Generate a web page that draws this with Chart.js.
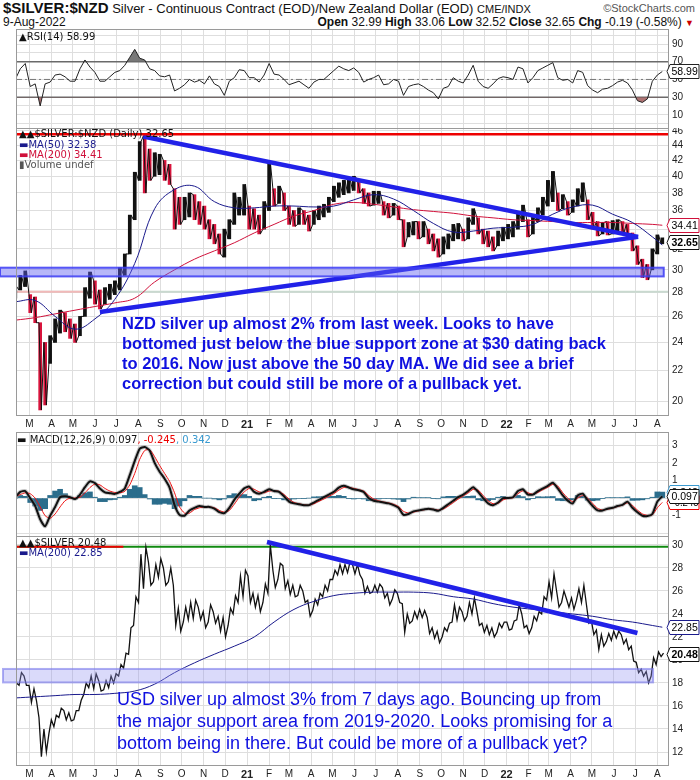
<!DOCTYPE html>
<html>
<head>
<meta charset="utf-8">
<script src="https://cdn.jsdelivr.net/npm/chart.js@4.4.0/dist/chart.umd.min.js"></script>
<style>
  body { margin: 0; width: 700px; height: 780px; position: relative; background: #fff; overflow: hidden;
         font-family: "Liberation Sans", Arial, sans-serif; }
  canvas { position: absolute; left: 0; }
  .t { position: absolute; white-space: nowrap; }
  .nar { font-family: "Liberation Sans Narrow", "Arial Narrow", "Liberation Sans", sans-serif; }
  .lg { font-family: "DejaVu Sans", Verdana, sans-serif; font-size: 10px; line-height: 10px; }
  .note { color: #0f10e0; }
</style>
</head>
<body>

<!-- header -->
<div class="t nar" style="left:3px;top:0px;font-size:13px;line-height:16px;color:#111">
  <b style="font-size:15px">$SILVER:$NZD</b> Silver - Continuous Contract (EOD)/New Zealand Dollar (EOD) <span style="font-size:11px">CME/INDX</span>
</div>
<div class="t" style="right:5px;top:2px;font-size:11px;color:#555">©StockCharts.com</div>
<div class="t nar" style="left:3px;top:15px;font-size:12px;color:#111">9-Aug-2022</div>
<div class="t nar" style="right:6px;top:15px;font-size:12px;color:#111">
  <b>Open</b> 32.99 <b>High</b> 33.06 <b>Low</b> 32.52 <b>Close</b> 32.65 <b>Chg</b> -0.19 (-0.58%) <span style="color:#c00;font-size:9px">▼</span>
</div>

<canvas id="rsiChart" width="700" height="100" style="top:29px"></canvas>
<canvas id="mainChart" width="700" height="305" style="top:128px"></canvas>
<canvas id="macdChart" width="700" height="104" style="top:432px"></canvas>
<canvas id="usdChart" width="700" height="244" style="top:536px"></canvas>

<!-- panel legends -->
<div class="t lg" style="left:19px;top:32px;color:#111">▲RSI(14) 58.99</div>
<div class="t lg" style="left:19px;top:129px;color:#111">
  <div>▲▲$SILVER:$NZD (Daily) 32.65</div>
  <div style="color:#1a1a8c;margin-top:1px">▬MA(50) 32.38</div>
  <div style="color:#d0103a">▬MA(200) 34.41</div>
  <div style="color:#555">▮Volume undef</div>
</div>
<div class="t lg" style="left:17px;top:435px;color:#111">▬ MACD(12,26,9) 0.097<span style="color:#e00">, -0.245</span><span style="color:#3a9ad0">, 0.342</span></div>
<div class="t lg" style="left:19px;top:538px;color:#111">
  <div>▲▲$SILVER 20.48</div>
  <div style="color:#1a1a8c;background:#fff">▬MA(200) 22.85</div>
</div>

<!-- chart notes -->
<div class="t note" style="left:122px;top:313px;font-size:16.5px;line-height:20px;font-weight:bold">
  NZD silver up almost 2% from last week. Looks to have<br>
  bottomed just below the blue support zone at $30 dating back<br>
  to 2016. Now just above the 50 day MA. We did see a brief<br>
  correction but could still be more of a pullback yet.
</div>
<div class="t note" style="left:117px;top:688px;font-size:18px;line-height:22px">
  USD silver up almost 3% from 7 days ago. Bouncing up from<br>
  the major support area from 2019-2020. Looks promising for a<br>
  bottom being in there. But could be more of a pullback yet?
</div>

<script>
// --- Data (weekly samples, first week = 2020-02-10) ---
const firstWeek = '2020-02-10';

const nzdLow = [27.5,28.2,28.5,26.3,25.5,19.5,19.8,22.5,24.0,24.7, 24.8,24.3,24.0,24.5,26.0,27.5,27.0,26.6,27.0,27.4,
  27.8,28.2,29.5,31.5,35.0,39.5,38.0,39.5,40.0,40.2, 39.5,39.0,34.0,34.5,35.0,35.3,35.0,34.5,34.0,33.0,
  32.5,31.5,31.2,33.0,34.5,35.5,35.5,34.0,34.0,33.5, 34.0,36.0,36.5,36.8,36.0,34.5,34.3,34.5,34.5,33.8,
  34.5,35.0,35.3,35.8,37.0,37.5,37.8,38.0,38.3,38.0, 36.8,36.5,36.6,36.8,35.5,35.2,35.5,35.0,32.2,33.2,
  33.4,33.0,33.2,32.5,31.8,31.2,31.5,32.0,32.8,33.0, 32.8,33.0,34.5,33.5,32.5,32.2,31.8,32.3,32.8,33.0,
  33.2,34.0,34.8,33.2,33.5,34.8,35.5,36.5,37.0,36.0, 36.2,35.5,35.8,36.5,37.0,35.0,34.0,33.3,33.5,33.4,
  33.5,33.6,33.5,33.0,31.8,30.5,29.3,29.1,30.0,31.5, 32.5];
const nzdHigh = [28.5,29.5,29.9,27.8,27.6,25.5,24.0,24.5,25.8,26.5, 26.3,25.8,25.4,26.0,28.4,29.8,29.0,28.2,28.4,28.7,
  29.0,30.2,31.5,35.5,40.5,44.5,45.3,43.5,43.0,42.8, 42.0,41.5,38.5,37.5,37.5,38.0,37.8,37.0,36.5,35.0,
  34.5,33.5,34.0,35.0,38.0,37.5,39.0,36.5,36.2,35.5, 37.0,41.8,38.5,38.8,38.0,36.5,36.0,36.3,36.0,35.5,
  36.0,36.5,36.7,37.5,38.8,39.2,39.5,39.8,40.0,39.6, 38.5,38.0,38.2,38.2,37.0,36.8,36.8,36.5,35.0,34.7,
  34.8,34.8,34.8,34.0,33.5,33.0,33.2,33.5,34.5,34.6, 34.0,35.2,36.2,35.2,34.0,33.8,33.2,33.8,34.2,34.5,
  34.8,35.8,36.6,35.0,35.3,36.3,37.5,39.5,40.6,38.0, 37.8,37.0,37.2,38.5,39.2,37.2,35.8,34.8,34.7,34.8,
  34.9,35.0,34.8,34.5,33.6,32.3,31.0,30.5,32.0,33.4, 33.1];

const usdLow = [17.3,17.8,17.8,16.3,16.5,11.6,12.0,13.6,14.2,15.0, 14.8,14.7,14.8,15.6,17.0,17.6,17.5,17.3,17.4,17.6,
  18.0,18.6,19.3,20.5,23.0,25.0,26.2,26.5,26.8,27.2, 26.5,26.8,23.0,22.5,23.3,23.5,23.6,23.5,22.8,23.3,
  23.2,22.5,22.0,23.0,24.0,25.0,25.5,25.0,24.6,24.2, 25.0,25.8,26.3,27.0,26.2,25.7,25.5,25.6,25.0,23.8,
  24.3,24.8,25.5,26.0,27.0,27.4,27.5,27.6,27.5,27.4, 25.8,25.8,25.9,25.9,25.4,24.8,25.3,25.0,22.4,23.2,
  23.4,23.6,23.7,22.3,21.9,21.5,22.0,22.5,23.3,23.5, 23.4,23.8,24.0,23.0,22.4,22.2,22.0,22.4,22.8,22.6,
  22.7,23.5,22.8,22.3,22.8,23.4,24.0,25.2,25.4,24.6, 25.0,24.6,24.4,25.2,25.0,23.2,22.2,20.9,21.2,21.6,
  21.7,21.9,21.4,20.9,19.9,18.9,18.6,18.0,18.6,19.6, 20.3];
const usdHigh = [18.0,18.9,18.6,17.8,17.5,15.0,14.0,14.8,15.2,15.8, 15.6,15.4,15.6,16.5,18.0,18.6,18.8,18.2,18.2,18.6,
  18.8,19.6,20.6,22.8,25.5,29.2,29.8,28.5,28.3,28.8, 28.0,28.0,26.5,24.5,24.6,25.0,25.2,24.6,24.2,24.8,
  24.2,23.8,23.7,24.5,25.6,27.3,27.8,27.3,25.8,25.6, 26.6,30.0,27.8,28.4,28.2,26.9,26.5,26.5,26.0,25.2,
  25.3,25.8,26.5,27.0,27.8,28.3,28.3,28.5,28.3,28.3, 27.0,26.4,26.5,26.6,26.3,25.8,26.1,25.8,24.9,24.0,
  24.2,24.4,24.3,23.7,22.8,22.5,22.8,23.2,24.8,24.6, 24.2,25.0,25.4,24.2,23.2,23.0,22.8,23.2,23.3,23.3,
  23.4,24.8,24.0,23.0,23.8,24.2,25.5,26.8,27.5,26.0, 26.0,25.3,25.4,26.2,26.5,24.8,23.4,22.6,22.2,22.3,
  22.5,22.5,22.2,21.8,21.2,19.8,19.2,19.0,20.2,20.7, 20.6];

const rsi = [50,62,68,42,45,20,45,47,55,56, 53,48,48,62,72,64,58,48,48,53, 58,60,66,75,84,74,72,62,60,54,
  53,55,37,40,44,50,47,49,45,54, 45,42,32,48,52,61,60,52,52,47, 55,68,56,55,50,44,46,48,44,40,
  47,50,50,55,60,65,62,60,63,58, 47,50,52,55,44,45,50,48,32,42, 44,45,42,38,35,28,40,42,52,48,
  46,55,66,48,42,40,45,51,53,52, 50,64,62,46,52,60,63,66,69,52, 49,50,46,60,58,43,38,35,39,40,
  43,47,49,46,38,26,24,28,48,55, 58.99];

const macd = [0.05,0.35,0.4,0.0,-0.45,-1.2,-1.6,-1.0,-0.5,0.05, 0.1,0.05,-0.05,0.2,0.62,0.95,0.85,0.55,0.33,0.28,
  0.24,0.35,0.55,1.3,2.1,2.8,2.9,2.7,2.0,1.5, 1.1,0.6,-0.4,-0.95,-1.0,-0.7,-0.55,-0.45,-0.5,-0.5,
  -0.6,-0.8,-0.85,-0.55,-0.1,0.25,0.55,0.65,0.35,0.25, 0.35,0.5,0.4,0.35,0.1,-0.2,-0.3,-0.35,-0.4,-0.4,
  -0.25,-0.1,0.05,0.2,0.35,0.6,0.7,0.6,0.5,0.45, 0.35,0.0,-0.15,-0.2,-0.25,-0.3,-0.4,-0.55,-0.95,-0.9,
  -0.75,-0.7,-0.65,-0.6,-0.65,-0.72,-0.55,-0.35,-0.15,0.05, 0.2,0.4,0.62,0.35,0.0,-0.3,-0.4,-0.25,0.0,0.0,
  0.05,0.4,0.5,0.2,0.2,0.4,0.55,0.7,0.87,0.55, 0.15,-0.15,-0.3,0.15,0.25,-0.12,-0.45,-0.7,-0.7,-0.6,
  -0.55,-0.45,-0.38,-0.2,-0.55,-0.8,-1.0,-1.02,-0.9,-0.2, 0.097];
const signal = [0.1,0.2,0.3,0.25,0.0,-0.5,-1.0,-1.15,-0.9,-0.5, -0.15,0.0,0.0,0.05,0.3,0.6,0.8,0.75,0.55,0.4,
  0.32,0.3,0.38,0.75,1.4,2.2,2.7,2.75,2.35,1.85, 1.4,0.95,0.3,-0.5,-0.85,-0.85,-0.65,-0.55,-0.5,-0.5,
  -0.55,-0.7,-0.8,-0.7,-0.35,0.05,0.35,0.55,0.5,0.35, 0.3,0.4,0.42,0.38,0.2,-0.05,-0.25,-0.32,-0.38,-0.4,
  -0.32,-0.18,-0.05,0.1,0.25,0.45,0.6,0.62,0.55,0.48, 0.4,0.15,-0.05,-0.15,-0.22,-0.27,-0.35,-0.48,-0.75,-0.85,
  -0.8,-0.72,-0.67,-0.62,-0.63,-0.68,-0.62,-0.45,-0.25,-0.05, 0.12,0.3,0.5,0.45,0.15,-0.15,-0.32,-0.3,-0.1,-0.02,
  0.02,0.25,0.42,0.3,0.22,0.32,0.48,0.62,0.78,0.68, 0.3,0.0,-0.2,0.0,0.15,0.0,-0.3,-0.58,-0.68,-0.63,
  -0.57,-0.48,-0.4,-0.27,-0.42,-0.68,-0.9,-0.98,-0.95,-0.55, -0.245];
const histogram = [0.0,0.15,0.1,-0.25,-0.45,-0.7,-0.6,0.15,0.4,0.5, 0.25,0.05,-0.05,0.15,0.3,0.35,0.05,-0.2,-0.2,-0.1,
  -0.08,0.05,0.15,0.5,0.7,0.6,0.2,-0.05,-0.35,-0.35, -0.3,-0.35,-0.6,-0.45,-0.15,0.15,0.1,0.1,0.0,0.0,
  -0.05,-0.1,-0.05,0.15,0.25,0.2,0.2,0.1,-0.15,-0.1, 0.05,0.1,-0.02,-0.03,-0.1,-0.15,-0.05,-0.03,-0.02,0.0,
  0.07,0.08,0.1,0.1,0.1,0.15,0.1,-0.02,-0.05,-0.03, -0.05,-0.15,-0.1,-0.05,-0.03,-0.03,-0.05,-0.07,-0.2,-0.05,
  0.05,0.02,0.02,0.02,-0.02,-0.04,0.07,0.1,0.1,0.1, 0.08,0.1,0.12,-0.1,-0.15,-0.15,-0.08,0.05,0.1,0.02,
  0.03,0.15,0.08,-0.1,-0.02,0.08,0.07,0.08,0.09,-0.13, -0.15,-0.15,-0.1,0.15,0.1,-0.12,-0.15,-0.12,-0.02,0.03,
  0.02,0.03,0.02,0.07,-0.13,-0.12,-0.1,-0.04,0.05,0.35, 0.342];

// moving averages, sampled every 4th week (plus the last one)
const maWeeks = [0,4,8,12,16,20,24,28,32,36, 40,44,48,52,56,60,64,68,72,76, 80,84,88,92,96,100,104,108,112,116, 120,124,128,130];
const nzdMa50 = [27.2,27.3,26.0,25.0,25.8,27.4,30.6,36.2,38.4,38.8, 37.0,36.3,36.3,36.5,36.5,36.4,36.5,37.2,37.8,37.3,
  36.0,34.6,33.7,33.8,34.1,34.2,34.5,35.6,36.4,36.6, 35.6,34.7,33.2,32.38];
const nzdMa200 = [25.7,25.9,26.2,26.5,26.8,27.1,27.5,28.9,30.0,31.0, 31.8,32.6,33.6,34.5,35.4,36.0,36.7,36.9,36.7,36.4,
  36.1,35.9,35.7,35.4,35.2,35.0,34.9,34.8,34.7,34.7, 34.7,34.6,34.5,34.41];
const usdMa200 = [16.7,16.8,16.9,17.0,17.0,17.1,17.3,17.9,18.9,19.75, 20.5,21.2,22.0,23.3,24.4,25.1,25.6,25.8,25.9,25.9,
  25.9,25.8,25.5,25.3,24.9,24.6,24.4,24.2,24.0,23.8, 23.5,23.3,23.0,22.85];

// trend lines drawn on the chart
const nzdUpperTrend = { dates: ['2020-08-08', '2022-07-05'], values: [45.2, 33.2] };
const nzdLowerTrend = { dates: ['2020-06-08', '2022-07-05'], values: [26.35, 33.2] };
const usdTrend = { dates: ['2021-01-29', '2022-07-04'], values: [30.26, 22.35] };
const nzdZone = [29.4, 30.2];
const usdZone = [18.05, 19.22];

// axis ticks
const monthLabels = ['M','A','M','J','J','A','S','O','N','D','21','F','M','A','M','J','J','A','S','O','N','D',
  '22','F','M','A','M','J','J','A'];
const nzdTicks = [20,22,24,26,28,30,32,34,36,38,40,42,44,46];
const usdTicks = [12,14,16,18,20,22,24,26,28,30];
const rsiTicks = [0,10,20,30,40,50,60,70,80,90,100];
const macdTicks = [-2,-1,0,1,2,3];

// --- helpers ---
const DAY0 = Date.UTC(2020, 2, 1);
const dayOf = s => { const [y, m, d] = s.split('-').map(Number); return (Date.UTC(y, m - 1, d) - DAY0) / 864e5; };
const weekDays = nzdLow.map((_, i) => dayOf(firstWeek) + 7 * i);
const maDays = maWeeks.map(i => weekDays[i]);
const monthDays = monthLabels.map((_, k) => (Date.UTC(2020, 2 + k, 1) - DAY0) / 864e5);
const X_MIN = -19, X_MAX = 898;
const GRID = '#dedede';
const TICK_FONT = { family: '"Liberation Sans", Arial, sans-serif', size: 10 };

function xScale(labelHeight) {
  return {
    type: 'linear', min: X_MIN, max: X_MAX, offset: false,
    afterBuildTicks: s => { s.ticks = monthDays.map(v => ({ value: v })); },
    afterFit: s => { s.height = labelHeight; s.paddingLeft = 0; s.paddingRight = 0; },
    grid: { color: GRID, drawTicks: false, offset: false },
    border: { display: false },
    ticks: {
      display: labelHeight > 0, autoSkip: false, maxRotation: 0, padding: 3, color: '#222',
      callback: (v, i) => monthLabels[i],
      font: c => ({ ...TICK_FONT, weight: (monthLabels[c.index] || '').length > 1 ? 'bold' : 'normal', size: (monthLabels[c.index] || '').length > 1 ? 11 : 10 })
    }
  };
}

function yScale(extra, ticks, hide) {
  return Object.assign({
    position: 'right',
    afterFit: s => { s.width = 32; s.paddingTop = 0; s.paddingBottom = 0; },
    afterBuildTicks: s => { s.ticks = ticks.map(v => ({ value: v })); },
    grid: { color: GRID, drawTicks: false },
    border: { display: false },
    ticks: { padding: 4, color: '#222', font: TICK_FONT, autoSkip: false,
      callback: v => (hide && hide.includes(v)) ? '' : String(v) }
  }, extra);
}

function drawTag(ctx, x, y, text, color, bold) {
  ctx.save();
  ctx.font = (bold ? 'bold ' : '') + '10.5px "Liberation Sans", Arial, sans-serif';
  const w = Math.min(ctx.measureText(text).width + 3, 699 - x - 3);
  ctx.beginPath();
  ctx.moveTo(x, y);
  ctx.lineTo(x + 3, y - 7);
  ctx.lineTo(x + 3 + w, y - 7);
  ctx.lineTo(x + 3 + w, y + 7);
  ctx.lineTo(x + 3, y + 7);
  ctx.closePath();
  ctx.fillStyle = '#fff';
  ctx.fill();
  ctx.strokeStyle = color;
  ctx.lineWidth = 1;
  ctx.stroke();
  ctx.fillStyle = '#000';
  ctx.textBaseline = 'middle';
  ctx.fillText(text, x + 4.5, y + 0.5, w - 2);
  ctx.restore();
}

function hline(ctx, area, y, color, width, dash, x0, x1) {
  ctx.save();
  ctx.beginPath();
  ctx.setLineDash(dash || []);
  ctx.strokeStyle = color;
  ctx.lineWidth = width;
  ctx.moveTo(x0 !== undefined ? x0 : area.left, y);
  ctx.lineTo(x1 !== undefined ? x1 : area.right, y);
  ctx.stroke();
  ctx.restore();
}

// frame + extras per panel
function panelPlugin(opts) {
  return {
    id: 'panel',
    beforeDatasetsDraw(chart) {
      const { ctx, chartArea: a, scales } = chart;
      (opts.under || []).forEach(fn => fn(ctx, a, scales));
    },
    afterDatasetsDraw(chart) {
      const { ctx, chartArea: a, scales } = chart;
      (opts.over || []).forEach(fn => fn(ctx, a, scales));
    },
    afterDraw(chart) {
      const { ctx, chartArea: a, scales } = chart;
      ctx.save();
      ctx.strokeStyle = '#9a9a9a';
      ctx.lineWidth = 1;
      ctx.strokeRect(a.left + 0.5, a.top + 0.5, a.right - a.left, a.bottom - a.top);
      ctx.restore();
      (opts.tags || []).forEach(t => drawTag(ctx, a.right - 1, Math.round(scales.y.getPixelForValue(t.value)) + 0.5, t.text, t.color, t.bold));
    }
  };
}

const baseOptions = {
  responsive: false, animation: false, devicePixelRatio: 1,
  layout: { padding: { left: 16, right: 0, top: 0, bottom: 0 } },
  plugins: { legend: { display: false }, tooltip: { enabled: false } },
  elements: { point: { radius: 0 } }
};

const pts = (days, vals) => vals.map((v, i) => ({ x: days[i], y: v }));
const trendPts = t => t.dates.map((d, i) => ({ x: dayOf(d), y: t.values[i] }));
// price path through each week's low and high, in the order the week moved
const rangePath = (lows, highs) => lows.flatMap((lo, i) => {
  const up = i === 0 || lo + highs[i] >= lows[i - 1] + highs[i - 1];
  const a = { x: weekDays[i] - 1.7, y: up ? lo : highs[i] };
  const b = { x: weekDays[i] + 1.7, y: up ? highs[i] : lo };
  return [a, b];
});

// --- RSI panel ---
new Chart(document.getElementById('rsiChart'), {
  type: 'line',
  data: { datasets: [
    { data: pts(weekDays, rsi), borderColor: '#222', borderWidth: 1, tension: 0,
      fill: { target: { value: 70 }, above: 'rgba(105,105,105,0.9)', below: 'rgba(0,0,0,0)' } },
    { data: pts(weekDays, rsi), borderWidth: 0, borderColor: 'rgba(0,0,0,0)', tension: 0,
      fill: { target: { value: 30 }, above: 'rgba(0,0,0,0)', below: 'rgba(160,90,90,0.85)' } }
  ] },
  options: { ...baseOptions,
    scales: { x: xScale(0), y: yScale({ min: -6, max: 107 }, rsiTicks, [0, 20, 40, 60, 80, 100]) }
  },
  plugins: [panelPlugin({
    under: [
      (ctx, a, s) => hline(ctx, a, s.y.getPixelForValue(70), '#6b6b6b', 1.5),
      (ctx, a, s) => hline(ctx, a, s.y.getPixelForValue(30), '#6b6b6b', 1.5),
      (ctx, a, s) => hline(ctx, a, s.y.getPixelForValue(50), '#777', 1, [6, 3, 2, 3])
    ],
    tags: [{ value: 58.99, text: '58.99', color: '#222' }]
  })]
});

// --- main NZD panel ---
const nzdColors = nzdLow.map((lo, i) => (i > 0 && lo + nzdHigh[i] < nzdLow[i - 1] + nzdHigh[i - 1]) ? '#d8143c' : '#111');
new Chart(document.getElementById('mainChart'), {
  type: 'line',
  data: { datasets: [
    { data: trendPts(nzdUpperTrend), borderColor: '#2121e8', borderWidth: 4.5, tension: 0 },
    { data: trendPts(nzdLowerTrend), borderColor: '#2121e8', borderWidth: 4.5, tension: 0 },
    { data: pts(maDays, nzdMa50), borderColor: '#1a1a8c', borderWidth: 1, tension: 0.4 },
    { data: pts(maDays, nzdMa200), borderColor: '#d0103a', borderWidth: 1, tension: 0.4 },
    { data: rangePath(nzdLow, nzdHigh), borderColor: '#111', borderWidth: 1, tension: 0 },
    { type: 'bar', data: weekDays.map((d, i) => ({ x: d, y: [nzdLow[i], nzdHigh[i]] })),
      backgroundColor: nzdColors, barThickness: 3 }
  ] },
  options: { ...baseOptions,
    scales: { x: xScale(18), y: yScale({ type: 'logarithmic', min: 19.2, max: 46.4 }, nzdTicks) }
  },
  plugins: [panelPlugin({
    under: [
      (ctx, a, s) => {
        const y = s.y.getPixelForValue(28.05);
        hline(ctx, a, y, '#c9d9cf', 2);
        hline(ctx, a, y, '#f2b9b9', 2, null, a.left, s.x.getPixelForValue(76));
      }
    ],
    over: [
      (ctx, a, s) => hline(ctx, a, s.y.getPixelForValue(45.5), '#ee0000', 2.5),
      (ctx, a, s) => {
        const y0 = s.y.getPixelForValue(nzdZone[1]), y1 = s.y.getPixelForValue(nzdZone[0]);
        const x1 = s.x.getPixelForValue(dayOf('2022-08-10'));
        ctx.save();
        ctx.fillStyle = 'rgba(95,95,240,0.45)';
        ctx.fillRect(0, y0, x1, y1 - y0);
        ctx.strokeStyle = 'rgba(60,60,245,0.85)';
        ctx.lineWidth = 2;
        ctx.strokeRect(0, y0, x1, y1 - y0);
        ctx.restore();
      }
    ],
    tags: [{ value: 34.41, text: '34.41', color: '#d0103a' }, { value: 32.65, text: '32.65', color: '#111', bold: true }]
  })]
});

// --- MACD panel ---
new Chart(document.getElementById('macdChart'), {
  type: 'line',
  data: { datasets: [
    { data: pts(weekDays, macd), borderColor: '#111', borderWidth: 2, tension: 0.2 },
    { data: pts(weekDays, signal), borderColor: '#ee1111', borderWidth: 1, tension: 0.2 },
    { data: pts(weekDays, macd), borderColor: 'rgba(140,140,140,0.5)', borderWidth: 4, tension: 0.2 },
    { type: 'bar', data: pts(weekDays, histogram), backgroundColor: '#2b6d8c', barThickness: 5 }
  ] },
  options: { ...baseOptions,
    scales: { x: xScale(0), y: yScale({ min: -2.15, max: 3.75 }, macdTicks, [0, -2]) }
  },
  plugins: [panelPlugin({
    tags: [
      { value: 0.342, text: '0.342', color: '#3a9ad0' },
      { value: -0.245, text: '-0.245', color: '#e00' },
      { value: 0.097, text: '0.097', color: '#111' }
    ]
  })]
});

// --- USD silver panel ---
new Chart(document.getElementById('usdChart'), {
  type: 'line',
  data: { datasets: [
    { data: trendPts(usdTrend), borderColor: '#2121e8', borderWidth: 4.5, tension: 0 },
    { data: pts(maDays, usdMa200), borderColor: '#1a1a8c', borderWidth: 1, tension: 0.4 },
    { data: rangePath(usdLow, usdHigh), borderColor: '#111', borderWidth: 1.3, tension: 0 }
  ] },
  options: { ...baseOptions,
    scales: { x: xScale(15), y: yScale({ min: 10.87, max: 30.78 }, usdTicks) }
  },
  plugins: [panelPlugin({
    under: [
      (ctx, a, s) => {
        const y = s.y.getPixelForValue(29.85);
        hline(ctx, a, y, '#108a10', 2);
        hline(ctx, a, y, '#ee0000', 2, null, a.left, s.x.getPixelForValue(132));
      }
    ],
    over: [
      (ctx, a, s) => {
        const y0 = s.y.getPixelForValue(usdZone[1]), y1 = s.y.getPixelForValue(usdZone[0]);
        const x1 = s.x.getPixelForValue(dayOf('2022-07-26'));
        ctx.save();
        ctx.fillStyle = 'rgba(150,150,240,0.35)';
        ctx.fillRect(3, y0, x1 - 3, y1 - y0);
        ctx.strokeStyle = 'rgba(120,120,235,0.6)';
        ctx.lineWidth = 2;
        ctx.strokeRect(3, y0, x1 - 3, y1 - y0);
        ctx.restore();
      }
    ],
    tags: [{ value: 22.85, text: '22.85', color: '#1a1a8c' }, { value: 20.48, text: '20.48', color: '#111', bold: true }]
  })]
});
</script>
</body>
</html>
